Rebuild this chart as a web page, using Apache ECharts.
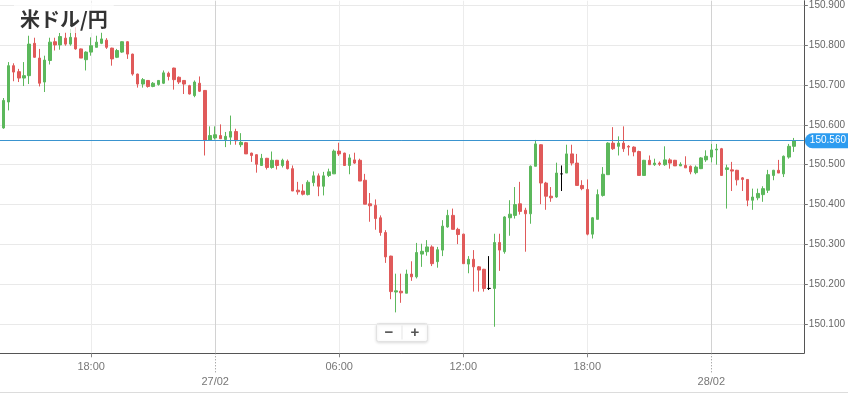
<!DOCTYPE html>
<html><head><meta charset="utf-8">
<script src="https://cdn.jsdelivr.net/npm/echarts@6/dist/echarts.min.js"></script>
<style>html,body{margin:0;padding:0;background:#fff}#c{width:848px;height:394px}</style>
</head><body><div id="c"></div>
<script>
const chartTitle = '米ドル/円';
// 15-minute bars starting 26/02 13:45 (hours counted from 26/02 00:00)
const startHour = 13.75;
const barHours = 0.25;

const opens = [
150.592,150.657,150.748,150.733,150.717,150.723,150.804,150.767,150.707,150.761,
150.808,150.800,150.817,150.802,150.818,150.790,150.763,150.782,150.794,150.804,
150.812,150.792,150.769,150.782,150.808,150.777,150.727,150.702,150.711,150.696,
150.701,150.704,150.729,150.742,150.719,150.711,150.698,150.673,150.704,150.686,
150.561,150.567,150.573,150.563,150.569,150.583,150.550,150.555,150.529,150.525,
150.498,150.516,150.493,150.511,150.498,150.509,150.490,150.436,150.434,150.425,
150.455,150.472,150.446,150.473,150.477,150.534,150.529,150.498,150.512,150.511,
150.461,150.402,150.398,150.367,150.330,150.271,150.181,150.183,150.178,150.226,
150.219,150.276,150.282,150.294,150.257,150.286,150.344,150.373,150.338,150.326,
150.251,150.263,150.244,150.238,150.190,150.190,150.305,150.282,150.367,150.373,
150.402,150.386,150.377,150.496,150.550,150.454,150.421,150.419,150.477,150.479,
150.527,150.504,150.448,150.438,150.326,150.363,150.423,150.475,150.554,150.546,
150.554,150.546,150.544,150.533,150.473,150.511,150.500,150.504,150.500,150.512,
150.511,150.497,150.498,150.496,150.480,150.490,150.512,150.519,150.537,150.540,
150.488,150.487,150.486,150.467,150.463,150.411,150.417,150.425,150.436,150.473,
150.486,150.477,150.519,150.546];
const closes = [
150.661,150.748,150.732,150.717,150.723,150.802,150.769,150.704,150.762,150.807,
150.800,150.821,150.802,150.819,150.790,150.767,150.782,150.798,150.807,150.815,
150.794,150.765,150.786,150.808,150.777,150.727,150.702,150.713,150.696,150.704,
150.711,150.730,150.721,150.713,150.707,150.702,150.677,150.707,150.684,150.561,
150.573,150.575,150.565,150.571,150.583,150.560,150.556,150.527,150.523,150.501,
150.516,150.493,150.511,150.498,150.511,150.490,150.434,150.432,150.426,150.456,
150.472,150.446,150.472,150.482,150.534,150.527,150.498,150.517,150.504,150.459,
150.401,150.397,150.365,150.330,150.269,150.182,150.184,150.179,150.226,150.219,
150.280,150.283,150.294,150.252,150.287,150.346,150.373,150.338,150.325,150.252,
150.263,150.244,150.236,150.190,150.190,150.305,150.286,150.369,150.376,150.400,
150.383,150.377,150.496,150.552,150.454,150.421,150.417,150.479,150.477,150.527,
150.504,150.448,150.440,150.326,150.367,150.425,150.476,150.554,150.540,150.554,
150.540,150.544,150.532,150.473,150.511,150.500,150.504,150.501,150.512,150.504,
150.497,150.501,150.492,150.482,150.494,150.517,150.521,150.537,150.539,150.473,
150.492,150.484,150.462,150.463,150.411,150.419,150.428,150.440,150.475,150.486,
150.479,150.521,150.546,150.560];
const lows = [
150.590,150.636,150.709,150.707,150.697,150.702,150.768,150.696,150.682,150.751,
150.786,150.788,150.798,150.798,150.788,150.767,150.736,150.773,150.794,150.802,
150.790,150.748,150.767,150.780,150.765,150.723,150.693,150.693,150.693,150.694,
150.698,150.702,150.711,150.688,150.702,150.677,150.676,150.669,150.682,150.523,
150.561,150.563,150.565,150.544,150.550,150.550,150.544,150.527,150.507,150.480,
150.497,150.488,150.490,150.488,150.493,150.488,150.434,150.425,150.423,150.423,
150.446,150.421,150.423,150.469,150.477,150.522,150.498,150.476,150.502,150.459,
150.401,150.357,150.337,150.322,150.254,150.163,150.130,150.154,150.178,150.209,
150.215,150.244,150.272,150.246,150.242,150.271,150.342,150.338,150.301,150.252,
150.228,150.182,150.182,150.182,150.186,150.094,150.234,150.277,150.322,150.365,
150.375,150.282,150.352,150.496,150.401,150.387,150.407,150.417,150.434,150.479,
150.498,150.448,150.436,150.323,150.315,150.363,150.420,150.475,150.537,150.523,
150.532,150.523,150.521,150.473,150.473,150.500,150.497,150.497,150.497,150.490,
150.497,150.497,150.492,150.476,150.476,150.489,150.507,150.506,150.500,150.472,
150.390,150.434,150.448,150.434,150.396,150.387,150.411,150.407,150.429,150.461,
150.479,150.469,150.515,150.532];
const highs = [
150.667,150.757,150.754,150.740,150.757,150.823,150.818,150.790,150.773,150.818,
150.818,150.830,150.832,150.840,150.844,150.791,150.784,150.819,150.823,150.832,
150.817,150.793,150.790,150.809,150.809,150.778,150.728,150.717,150.712,150.707,
150.712,150.736,150.733,150.743,150.721,150.712,150.700,150.711,150.721,150.687,
150.596,150.596,150.601,150.582,150.623,150.590,150.579,150.557,150.530,150.526,
150.527,150.517,150.533,150.512,150.515,150.513,150.498,150.457,150.451,150.461,
150.483,150.478,150.482,150.490,150.538,150.555,150.530,150.526,150.530,150.515,
150.477,150.429,150.413,150.373,150.336,150.272,150.227,150.227,150.237,150.258,
150.304,150.302,150.311,150.298,150.294,150.361,150.387,150.390,150.342,150.327,
150.271,150.286,150.246,150.239,150.271,150.327,150.327,150.371,150.411,150.444,
150.457,150.392,150.498,150.562,150.551,150.457,150.444,150.505,150.498,150.550,
150.550,150.527,150.461,150.463,150.369,150.438,150.494,150.556,150.594,150.571,
150.596,150.549,150.546,150.535,150.512,150.523,150.515,150.508,150.546,150.516,
150.512,150.506,150.521,150.498,150.498,150.519,150.536,150.552,150.552,150.542,
150.500,150.507,150.487,150.469,150.464,150.440,150.440,150.446,150.487,150.487,
150.512,150.523,150.552,150.567];

const currentPrice = 150.560;
const yTicks = [150.1, 150.2, 150.3, 150.4, 150.5, 150.6, 150.7, 150.8, 150.9];
const timeTicks = [18, 30, 36, 42];
const timeLabels = ['18:00', '06:00', '12:00', '18:00'];
const dateTicks = [24, 48];
const dateLabels = ['27/02', '28/02'];

const rows = opens.map((o, i) => [startHour + i * barHours, o, closes[i], lows[i], highs[i]]);

const X_MIN = 13.591, X_MAX = 52.476;
const Y_MIN = 150.0275, Y_MAX = 150.91075;
const up = '#5cb85c', down = '#e05a5a';

const chart = echarts.init(document.getElementById('c'), null, {renderer: 'canvas'});
chart.setOption({
  animation: false,
  backgroundColor: '#fff',
  title: {
    text: chartTitle, left: 14, top: 3, padding: [6, 6, 4, 6],
    backgroundColor: 'rgba(255,255,255,0.72)',
    textStyle: {fontFamily: 'Noto Sans CJK JP', fontSize: 20, fontWeight: 'bold', color: '#333'}
  },
  grid: {left: 0, right: 42, top: 0, bottom: 40.7, containLabel: false},
  xAxis: [{
    type: 'value', min: X_MIN, max: X_MAX, position: 'bottom',
    axisLine: {show: true, onZero: false, lineStyle: {color: '#555', width: 1}},
    axisTick: {show: true, customValues: timeTicks, length: 4, lineStyle: {color: '#888'}},
    axisLabel: {customValues: timeTicks, margin: 8, fontSize: 11, color: '#777', fontFamily: 'Liberation Sans',
      formatter: v => { const k = timeTicks.findIndex(t => Math.abs(t - v) < 1e-6); return k >= 0 ? timeLabels[k] : ''; }},
    splitLine: {show: true, lineStyle: {color: '#ececec', width: 1}}
  }, {
    type: 'value', min: X_MIN, max: X_MAX, position: 'bottom',
    axisLine: {show: false, onZero: false},
    axisTick: {show: true, customValues: dateTicks, length: 19, lineStyle: {color: '#888', type: [1, 2]}},
    axisLabel: {customValues: dateTicks, margin: 23, fontSize: 11, color: '#777', fontFamily: 'Liberation Sans',
      formatter: v => { const k = dateTicks.findIndex(t => Math.abs(t - v) < 1e-6); return k >= 0 ? dateLabels[k] : ''; }},
    splitLine: {show: true, lineStyle: {color: '#d2d2d2', width: 1}}
  }],
  yAxis: {
    type: 'value', position: 'right', min: Y_MIN, max: Y_MAX, scale: true,
    axisLine: {show: true, lineStyle: {color: '#555', width: 1}},
    axisTick: {show: true, customValues: yTicks, length: 4, lineStyle: {color: '#777'}},
    axisLabel: {customValues: yTicks, margin: 5, fontSize: 10, color: '#666', fontFamily: 'Liberation Sans',
      formatter: v => v.toFixed(3)},
    splitLine: {show: true, lineStyle: {color: '#e9e9e9', width: 1}}
  },
  series: [{
    type: 'candlestick', xAxisIndex: 0, yAxisIndex: 0,
    data: rows,
    dimensions: ['t', 'open', 'close', 'lowest', 'highest'],
    encode: {x: 't', y: ['open', 'close', 'lowest', 'highest']},
    barWidth: 3,
    silent: true,
    itemStyle: {color: up, color0: down, borderColor: up, borderColor0: down, borderColorDoji: '#000', borderWidth: 1},
    markLine: {
      silent: true, symbol: ['none', 'none'], animation: false,
      data: [{yAxis: currentPrice}],
      lineStyle: {color: '#3a94cf', width: 1, type: 'solid'},
      label: {show: true, position: 'end', distance: 1, formatter: currentPrice.toFixed(3),
        color: '#fff', backgroundColor: '#2d9cf0', padding: [3, 3, 2, 5], borderRadius: [8, 0, 0, 8],
        fontSize: 10, fontFamily: 'Liberation Sans'},
      emphasis: {disabled: true}
    }
  }],
  graphic: [
    {type: 'rect', left: 0, top: 392, shape: {width: 848, height: 1}, style: {fill: '#dcdcdc'}, silent: true},
    {type: 'group', left: 376, top: 323, silent: true, children: [
      {type: 'rect', shape: {x: 0, y: 0, width: 51, height: 18, r: 2},
        style: {fill: '#fff', stroke: '#e2e2e2', lineWidth: 1, shadowBlur: 3, shadowColor: 'rgba(0,0,0,0.12)', shadowOffsetY: 1}},
      {type: 'rect', shape: {x: 25, y: 2, width: 1, height: 14}, style: {fill: '#e6e6e6'}},
      {type: 'text', x: 12.5, y: 9, style: {text: '−', fill: '#555', font: 'bold 15px Liberation Sans', align: 'center', verticalAlign: 'middle'}},
      {type: 'text', x: 38.5, y: 9, style: {text: '+', fill: '#555', font: 'bold 15px Liberation Sans', align: 'center', verticalAlign: 'middle'}}
    ]}
  ]
});
</script></body></html>
